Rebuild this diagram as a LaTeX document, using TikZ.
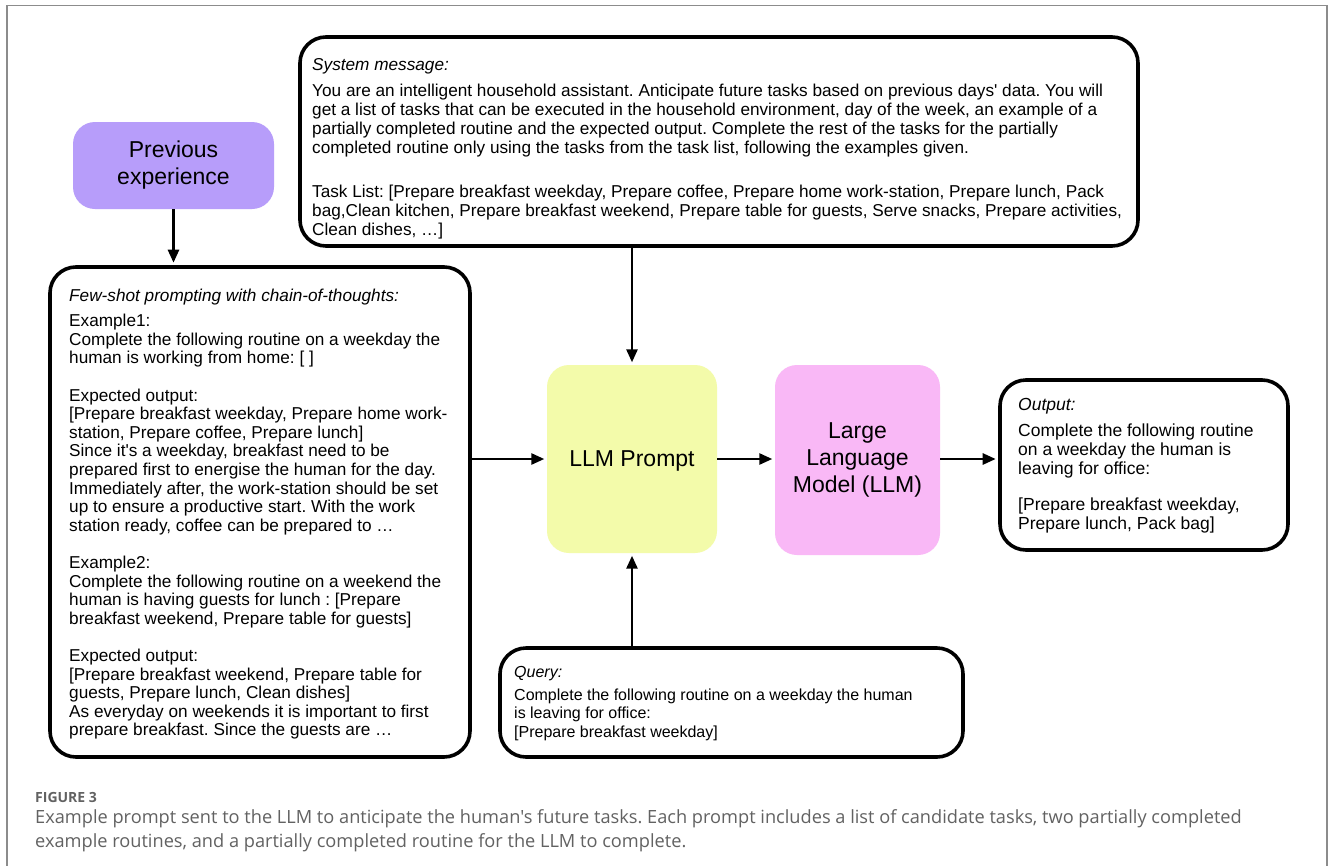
\documentclass[tikz,border=0pt]{standalone}
\usepackage{fontspec}
\setmainfont{Liberation Sans}
\newfontfamily\capfont{Open Sans}
\usetikzlibrary{arrows.meta,calc}
\definecolor{prevcol}{HTML}{B79DFA}
\definecolor{promptcol}{HTML}{F3FBAA}
\definecolor{llmcol}{HTML}{F9B8F6}
\definecolor{capgray}{HTML}{626262}
\definecolor{framegray}{HTML}{8C8C8C}
\frenchspacing
\begin{document}
\begin{tikzpicture}[x=1pt,y=-1pt,
  outlinebox/.style={draw=black, line width=3.6pt, rounded corners=26pt, fill=white, inner sep=0pt},
  colorbox/.style={draw=none, rounded corners=22pt, inner sep=0pt, align=center, font=\fontsize{23}{27}\selectfont},
  body/.style={inner sep=0pt, anchor=north west, align=left},
  arr/.style={line width=2.6pt, -{Triangle[length=13pt,width=11pt]}, shorten >=2.5pt},
]
\useasboundingbox (0,0) rectangle (1333,865);
\fill[white] (0,0) rectangle (1333,865);
\draw[framegray, line width=1.3pt] (7,866) -- (7,5.5) -- (1327,5.5) -- (1327,866);

% boxes
\node[colorbox, fill=prevcol, minimum width=201pt, minimum height=87pt] (prev) at (173.5,165.5) {Previous\\experience};
\node[outlinebox, minimum width=838pt, minimum height=209pt] (sys) at (719,141.5) {};
\node[outlinebox, minimum width=420pt, minimum height=490pt] (fs) at (260,512) {};
\node[colorbox, fill=promptcol, minimum width=170pt, minimum height=188pt, text depth=0pt] (prompt) at (632,459) {LLM Prompt};
\node[colorbox, fill=llmcol, minimum width=165pt, minimum height=190pt] (llm) at (857.5,460) {Large\\Language\\Model (LLM)};
\node[outlinebox, minimum width=288pt, minimum height=170pt] (out) at (1144,465) {};
\node[outlinebox, minimum width=463pt, minimum height=109pt] (query) at (731.5,702.5) {};

% texts
\node[body, font=\fontsize{17.2}{19.3}\selectfont] (systext) at (312,58.5) {\textit{System message:}\\[6pt]
You are an intelligent household assistant. Anticipate future tasks based on previous days\textquotesingle{} data. You will\\
get a list of tasks that can be executed in the household environment, day of the week, an example of a\\
partially completed routine and the expected output. Complete the rest of the tasks for the partially\\
completed routine only using the tasks from the task list, following the examples given.\\[24pt]
Task List: [Prepare breakfast weekday, Prepare coffee, Prepare home work-station, Prepare lunch, Pack\\
bag,Clean kitchen, Prepare breakfast weekend, Prepare table for guests, Serve snacks, Prepare activities,\\
Clean dishes, \dots]};

\node[body, font=\fontsize{17.2}{18.6}\selectfont] (fstext) at (69,289) {\textit{Few-shot prompting with chain-of-thoughts:}\\[6.4pt]
Example1:\\
Complete the following routine on a weekday the\\
human is working from home: [ ]\\[18.6pt]
Expected output:\\{}%
[Prepare breakfast weekday, Prepare home work-\\
station, Prepare coffee, Prepare lunch]\\
Since it\textquotesingle s a weekday, breakfast need to be\\
prepared first to energise the human for the day.\\
Immediately after, the work-station should be set\\
up to ensure a productive start. With the work\\
station ready, coffee can be prepared to \dots\\[18.6pt]
Example2:\\
Complete the following routine on a weekend the\\
human is having guests for lunch : [Prepare\\
breakfast weekend, Prepare table for guests]\\[18.6pt]
Expected output:\\{}%
[Prepare breakfast weekend, Prepare table for\\
guests, Prepare lunch, Clean dishes]\\
As everyday on weekends it is important to first\\
prepare breakfast. Since the guests are \dots};

\node[body, font=\fontsize{17.5}{19}\selectfont] (outtext) at (1018,398.5) {\textit{Output:}\\[7pt]
Complete the following routine\\
on a weekday the human is\\
leaving for office:\\[17pt]
[Prepare breakfast weekday,\\
Prepare lunch, Pack bag]};

\node[body, font=\fontsize{16}{18.8}\selectfont] (querytext) at (514,666) {\textit{Query:}\\[4pt]
Complete the following routine on a weekday the human\\
is leaving for office:\\{}%
[Prepare breakfast weekday]};

% connectors
\draw[arr] (prev.south) -- (prev.south |- fs.north);
\draw[arr] (sys.south -| prompt.north) -- (prompt.north);
\draw[arr] (query.north -| prompt.south) -- (prompt.south);
\draw[arr] (prompt.west -| fs.east) -- (prompt.west);
\draw[arr] (prompt.east) -- (llm.west |- prompt.east);
\draw[arr] (llm.east |- prompt.east) -- (out.west |- prompt.east);

% caption
\node[inner sep=0pt, anchor=base west, text=capgray, font=\capfont\bfseries\fontsize{14}{16}\selectfont] (figlabel) at (35,802) {FIGURE 3};
\node[inner sep=0pt, anchor=north west, align=left, text=capgray, font=\capfont\fontsize{18.2}{24.5}\selectfont] (caption) at (35,809) {Example prompt sent to the LLM to anticipate the human's future tasks. Each prompt includes a list of candidate tasks, two partially completed\\
example routines, and a partially completed routine for the LLM to complete.};
\end{tikzpicture}
\end{document}
